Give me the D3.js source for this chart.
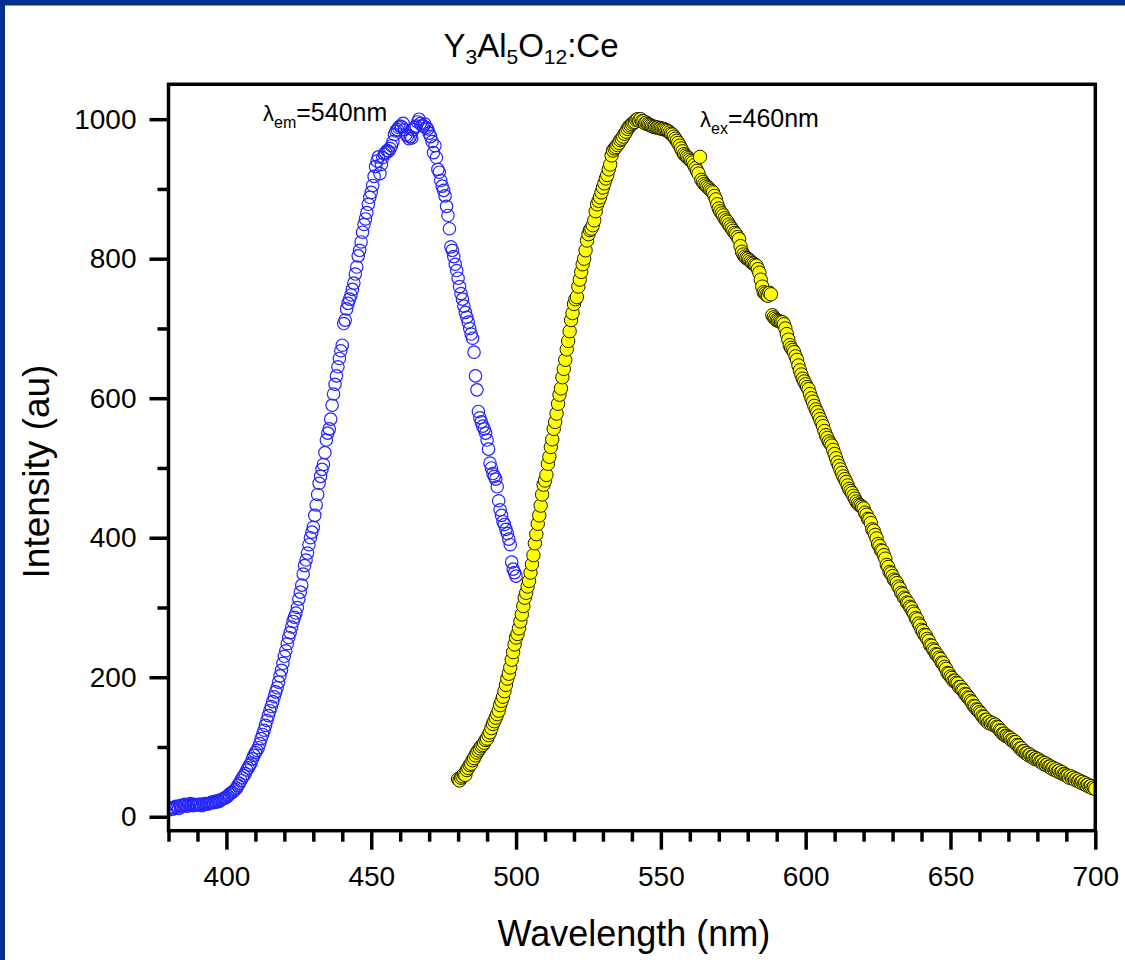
<!DOCTYPE html>
<html>
<head>
<meta charset="utf-8">
<script src="https://cdn.jsdelivr.net/npm/d3@7"></script>
<style>
  html, body { margin: 0; padding: 0; background: #ffffff; }
  svg { display: block; font-family: "Liberation Sans", Arial, sans-serif; }
</style>
</head>
<body>
<svg id="chart" width="1125" height="960"></svg>
<script>
// Spectral sampling (nm)
const excitationStart = 380;
const emissionStart = 480;
const stepNm = 0.5;

// Excitation spectrum, monitored at 540 nm (380–500 nm, 0.5 nm steps)
const excitationIntensity = [
  12, 10, 13, 11, 13, 15, 14, 12, 16, 14, 16, 18, 17, 15, 17, 19, 17, 16, 18, 17,
  17, 18, 18, 16, 18, 19, 19, 18, 19, 20, 21, 20, 22, 21, 23, 22, 24, 25, 26, 27,
  28, 30, 32, 34, 35, 37, 39, 41, 45, 48, 52, 56, 59, 62, 67, 70, 74, 77, 83, 88,
  92, 95, 99, 105, 112, 118, 124, 131, 138, 145, 152, 158, 165, 172, 179, 185, 193, 202, 210, 220,
  230, 238, 248, 257, 264, 272, 280, 286, 292, 300, 312, 322, 332, 348, 360, 368, 378, 390, 400, 408,
  415, 432, 447, 462, 478, 488, 498, 505, 522, 540, 550, 556, 570, 590, 606, 620, 632, 645, 657, 668,
  676, 707, 712, 728, 736, 742, 748, 756, 765, 778, 788, 804, 812, 824, 838, 849, 857, 866, 878, 888,
  895, 905, 918, 932, 940, 946, 922, 935, 945, 950, 952, 955, 954, 958, 962, 968, 978, 983, 985, 988,
  990, 989, 994, 985, 978, 976, 972, 975, 973, 985, 988, 990, 996, 1000, 994, 991, 990, 993, 988, 986,
  980, 975, 968, 952, 962, 945, 928, 924, 912, 904, 898, 890, 875, 862, 843, 817, 812, 803, 792, 783,
  772, 760, 750, 742, 732, 723, 716, 709, 700, 692, 686, 666, 632, 612, 581, 572, 566, 560, 556, 550,
  540, 527, 507, 500, 492, 488, 484, 473, 453, 440, 432, 423, 419, 412, 406, 398, 390, 365, 355, 350,
  345
];

// Emission spectrum, excited at 460 nm (480–700 nm, 0.5 nm steps)
const emissionIntensity = [
  54, 52, 56, 58, 61, 60, 67, 70, 74, 76, 81, 84, 88, 92, 95, 98, 101, 103, 106, 110,
  112, 117, 121, 127, 133, 137, 142, 147, 152, 160, 166, 172, 180, 189, 198, 205, 214, 225, 236, 247,
  257, 262, 270, 280, 290, 302, 314, 321, 330, 338, 350, 362, 375, 392, 405, 420, 432, 446, 462, 476,
  482, 490, 506, 516, 530, 541, 556, 566, 578, 592, 605, 614, 630, 642, 655, 670, 682, 696, 712, 722,
  735, 742, 745, 760, 770, 781, 792, 800, 812, 826, 835, 841, 843, 848, 855, 868, 878, 883, 888, 895,
  902, 908, 915, 920, 928, 935, 948, 955, 958, 960, 963, 966, 970, 972, 975, 979, 982, 986, 989, 991,
  993, 995, 996, 999, 1000, 998, 1000, 997, 997, 994, 995, 993, 992, 991, 990, 989, 989, 988, 988, 987,
  987, 986, 986, 985, 984, 983, 981, 979, 978, 975, 972, 969, 966, 962, 958, 954, 950, 948, 946, 944,
  942, 940, 938, 934, 930, 926, 922, 946, 913, 910, 907, 905, 903, 901, 899, 897, 895, 890, 885, 878,
  872, 868, 865, 862, 858, 855, 853, 849, 846, 843, 840, 837, 835, 831, 828, 818, 810, 806, 803, 801,
  800, 798, 796, 794, 793, 791, 790, 785, 780, 770, 760, 752, 750, 748, 747, 751, 749, 719, 716, 714,
  712, 711, 710, 709, 709, 706, 700, 692, 684, 676, 672, 669, 666, 660, 655, 647, 640, 634, 628, 624,
  620, 616, 613, 606, 600, 595, 589, 584, 580, 575, 570, 565, 560, 553, 547, 543, 538, 535, 532, 526,
  520, 514, 508, 503, 498, 493, 488, 484, 480, 475, 470, 467, 464, 460, 456, 452, 449, 447, 446, 444,
  442, 436, 433, 427, 426, 421, 412, 410, 404, 399, 391, 388, 382, 381, 375, 370, 361, 358, 351, 349,
  345, 340, 338, 335, 330, 327, 321, 319, 314, 312, 307, 306, 301, 299, 294, 291, 285, 283, 277, 274,
  268, 266, 261, 260, 255, 252, 246, 245, 240, 238, 233, 232, 228, 226, 221, 220, 215, 212, 206, 205,
  201, 199, 195, 195, 192, 191, 186, 186, 182, 181, 176, 175, 171, 170, 166, 164, 159, 158, 154, 153,
  150, 148, 144, 143, 139, 139, 135, 136, 133, 134, 131, 132, 129, 128, 124, 123, 119, 119, 116, 116,
  114, 113, 110, 110, 107, 107, 103, 102, 98, 98, 94, 94, 91, 91, 88, 89, 86, 86, 83, 84,
  82, 82, 79, 79, 76, 77, 74, 75, 72, 72, 69, 70, 67, 68, 65, 66, 63, 64, 61, 61,
  59, 59, 56, 58, 55, 56, 53, 54, 51, 52, 49, 50, 47, 48, 45, 46, 43, 44, 41, 42,
  40
];

// Axis ticks and labels
const xMajorTicks = [400, 450, 500, 550, 600, 650, 700];
const xMinorTicks = [380, 390, 410, 420, 430, 440, 460, 470, 480, 490, 510, 520, 530, 540, 560, 570, 580, 590, 610, 620, 630, 640, 660, 670, 680, 690];
const yMajorTicks = [0, 200, 400, 600, 800, 1000];
const yMinorTicks = [100, 300, 500, 700, 900];

const xTitle = "Wavelength (nm)";
const yTitle = "Intensity (au)";

// Layout
const W = 1125, H = 960;
const plot = { left: 168.5, right: 1095.3, top: 84.3, bottom: 830.7 };
const axisStroke = 3.5;

const svg = d3.select("#chart");

// Background and navy frame strips
svg.append("rect").attr("x", 0).attr("y", 0).attr("width", W).attr("height", H).attr("fill", "#ffffff");
svg.append("rect").attr("x", 0).attr("y", 0).attr("width", W).attr("height", 5.5).attr("fill", "#00308a");
svg.append("rect").attr("x", 0).attr("y", 0).attr("width", 5).attr("height", H).attr("fill", "#00308a");

const x = d3.scaleLinear().domain([380, 700]).range([plot.left, plot.right]);
const y = d3.scaleLinear().domain([-20, 1050]).range([plot.bottom, plot.top]);

const toPoints = (start, values) => values.map((v, i) => ({ wl: start + i * stepNm, v }));
const excitation = toPoints(excitationStart, excitationIntensity);
const emission = toPoints(emissionStart, emissionIntensity);

// Clip markers to the plot frame
svg.append("defs").append("clipPath").attr("id", "plotClip")
  .append("rect")
  .attr("x", plot.left).attr("y", plot.top)
  .attr("width", plot.right - plot.left).attr("height", plot.bottom - plot.top);

const marks = svg.append("g").attr("clip-path", "url(#plotClip)");

marks.append("g").selectAll("circle")
  .data(excitation)
  .join("circle")
  .attr("cx", d => x(d.wl))
  .attr("cy", d => y(d.v))
  .attr("r", 6.2)
  .attr("fill", "none")
  .attr("stroke", "#2424ff")
  .attr("stroke-width", 1.2);

marks.append("g").selectAll("circle")
  .data(emission)
  .join("circle")
  .attr("cx", d => x(d.wl))
  .attr("cy", d => y(d.v))
  .attr("r", 6.7)
  .attr("fill", "#ffff00")
  .attr("stroke", "#1a1a00")
  .attr("stroke-width", 1);

// Axes
function styleAxis(g) {
  g.select(".domain").remove();
  g.selectAll(".tick line").attr("stroke", "#000").attr("stroke-width", axisStroke);
  g.selectAll(".tick text").attr("fill", "#000").attr("font-size", 28)
    .attr("font-family", "'Liberation Sans', Arial, sans-serif");
}

svg.append("g")
  .attr("transform", `translate(0,${plot.bottom})`)
  .call(d3.axisBottom(x).tickValues(xMinorTicks).tickSize(11).tickFormat(""))
  .call(styleAxis);

svg.append("g")
  .attr("transform", `translate(0,${plot.bottom})`)
  .call(d3.axisBottom(x).tickValues(xMajorTicks).tickSize(19).tickPadding(16).tickFormat(d3.format("d")))
  .call(styleAxis);

svg.append("g")
  .attr("transform", `translate(${plot.left},0)`)
  .call(d3.axisLeft(y).tickValues(yMinorTicks).tickSize(11).tickFormat(""))
  .call(styleAxis);

svg.append("g")
  .attr("transform", `translate(${plot.left},0)`)
  .call(d3.axisLeft(y).tickValues(yMajorTicks).tickSize(19).tickPadding(13).tickFormat(d3.format("d")))
  .call(styleAxis);

// Plot frame
svg.append("rect")
  .attr("x", plot.left).attr("y", plot.top)
  .attr("width", plot.right - plot.left).attr("height", plot.bottom - plot.top)
  .attr("fill", "none").attr("stroke", "#000").attr("stroke-width", axisStroke);

// Axis titles
svg.append("text")
  .attr("x", (plot.left + plot.right) / 2 + 2)
  .attr("y", 946)
  .attr("text-anchor", "middle")
  .attr("font-size", 36)
  .attr("fill", "#000")
  .text(xTitle);

svg.append("text")
  .attr("transform", `translate(49,${(plot.top + plot.bottom) / 2 + 14}) rotate(-90)`)
  .attr("text-anchor", "middle")
  .attr("font-size", 37)
  .attr("fill", "#000")
  .text(yTitle);

// Chart title: Y3Al5O12:Ce with subscripts
const titleParts = [["Y", 0], ["3", 1], ["Al", 0], ["5", 1], ["O", 0], ["12", 1], [":Ce", 0]];
const title = svg.append("text")
  .attr("x", 531).attr("y", 57)
  .attr("text-anchor", "middle")
  .attr("font-size", 33)
  .attr("fill", "#000");
let prevSub = 0;
titleParts.forEach(([s, sub]) => {
  title.append("tspan")
    .attr("dy", sub === prevSub ? 0 : (sub ? 7 : -7))
    .attr("font-size", sub ? 21 : 33)
    .text(s);
  prevSub = sub;
});

// Spectrum annotations
function annotate(xPos, yPos, sub, rest) {
  const t = svg.append("text").attr("x", xPos).attr("y", yPos).attr("fill", "#000").attr("font-size", 24);
  t.append("tspan").attr("font-size", 22).text("λ");
  t.append("tspan").attr("font-size", 16).attr("dy", 7).text(sub);
  t.append("tspan").attr("font-size", 25).attr("dy", -7).text(rest);
}
annotate(263, 121, "em", "=540nm");
annotate(700, 127, "ex", "=460nm");
</script>
</body>
</html>
